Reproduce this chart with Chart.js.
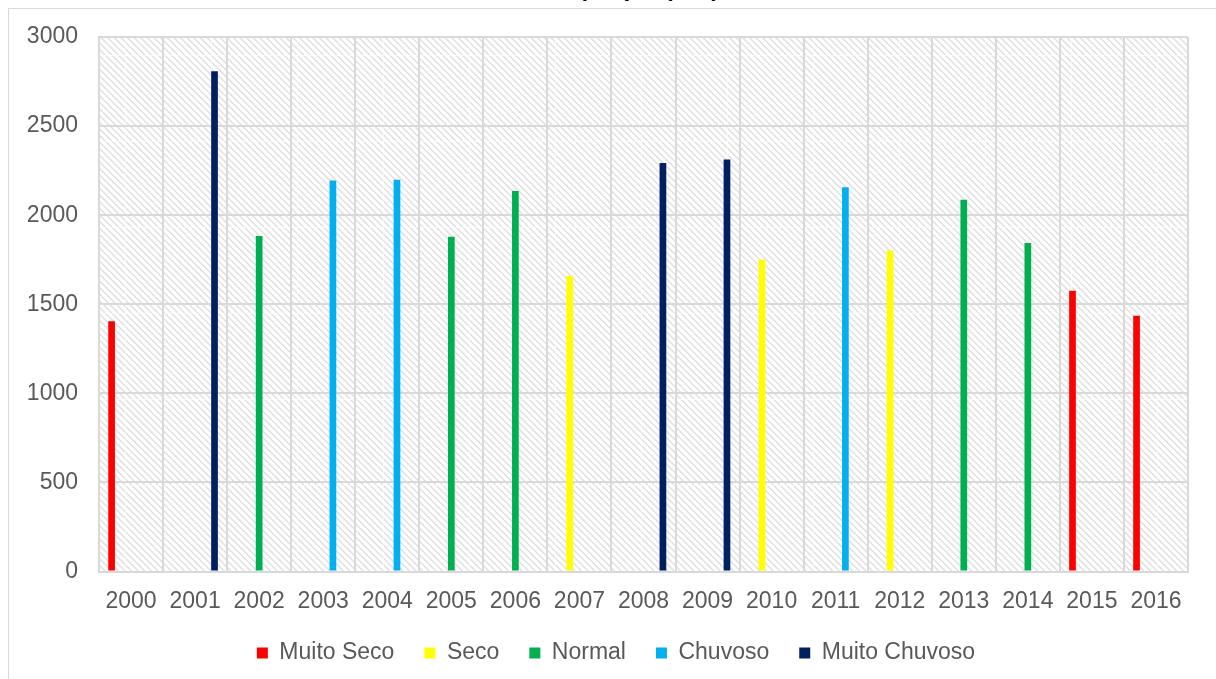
<!DOCTYPE html>
<html>
<head>
<meta charset="utf-8">
<script src="https://cdn.jsdelivr.net/npm/chart.js@4/dist/chart.umd.min.js"></script>
<style>
  html, body { margin: 0; padding: 0; background: #fff; overflow: hidden; }
  #wrap { position: relative; width: 1216px; height: 679px; overflow: hidden; }
  #frame { position: absolute; left: 8px; top: 8px; width: 1300px; height: 800px;
           border-left: 1.5px solid #d9d9d9; border-top: 1.5px solid #d9d9d9; }
  #title { position: absolute; left: 528px; top: -22.5px; font: bold 22px "Liberation Sans", Arial, sans-serif;
           line-height: 22px; color: #000; white-space: nowrap; }
  canvas { position: absolute; left: 0; top: 0; }
</style>
</head>
<body>
<div id="wrap">
  <div id="frame"></div>
  <div id="title">Precipitação (mm)</div>
  <canvas id="chart" width="1216" height="679"></canvas>
</div>
<script>
// Annual rainfall per year and its class
const years = ['2000','2001','2002','2003','2004','2005','2006','2007','2008',
               '2009','2010','2011','2012','2013','2014','2015','2016'];
const precipitation = [1405, 2808, 1883, 2194, 2199, 1879, 2136, 1658, 2293,
                       2312, 1750, 2156, 1801, 2087, 1844, 1576, 1435];
// 0 = Muito Seco, 1 = Seco, 2 = Normal, 3 = Chuvoso, 4 = Muito Chuvoso
const yearClass = [0, 4, 2, 3, 3, 2, 2, 1, 4, 4, 1, 3, 1, 2, 2, 0, 0];
const classNames = ['Muito Seco', 'Seco', 'Normal', 'Chuvoso', 'Muito Chuvoso'];
const classColors = ['#FF0000', '#FFFF00', '#00B050', '#00B0F0', '#002060'];
const yMin = 0, yMax = 3000, yStep = 500;

const FONT = '"Liberation Sans", Arial, sans-serif';
const TEXT = '#595959';
const GRID = '#d9d9d9';

// Diagonal hatch fill for the plot background
function makeHatch(ctx) {
  const size = 86;
  const tile = document.createElement('canvas');
  tile.width = size; tile.height = size;
  const t = tile.getContext('2d');
  t.fillStyle = '#ffffff';
  t.fillRect(0, 0, size, size);
  t.strokeStyle = '#e0e0e0';
  t.lineWidth = 1.5;
  for (let k = -size; k < size * 2; k += size / 13) {
    t.beginPath();
    t.moveTo(k, 0);
    t.lineTo(k + size, size);
    t.stroke();
  }
  t.fillStyle = 'rgba(255,255,255,0.55)';
  t.fillRect(0, 0, size, 1);
  t.fillRect(0, 0, 1, size);
  const p = ctx.createPattern(tile, 'repeat');
  p.setTransform(new DOMMatrix([1, 0, 0, 1, 39, 55]));
  return p;
}

const hatchBackground = {
  id: 'hatchBackground',
  beforeDraw(chart) {
    const { ctx, chartArea: a } = chart;
    if (!a) return;
    ctx.save();
    ctx.fillStyle = makeHatch(ctx);
    ctx.fillRect(a.left, a.top, a.right - a.left, a.bottom - a.top);
    ctx.restore();
  }
};

// Centre the legend row under the whole frame rather than the plot
const legendShift = {
  id: 'legendShift',
  afterLayout(chart) {
    if (chart.legend) chart.legend.left += 44;
  }
};

const datasets = classNames.map((name, c) => ({
  label: name,
  data: precipitation.map((v, i) => (yearClass[i] === c ? v : null)),
  backgroundColor: classColors[c],
  borderWidth: 0,
  categoryPercentage: 0.758,
  barPercentage: 0.69
}));

new Chart(document.getElementById('chart'), {
  type: 'bar',
  data: { labels: years, datasets },
  plugins: [hatchBackground, legendShift],
  options: {
    responsive: false,
    animation: false,
    layout: { padding: { left: 0, right: 28, top: 37, bottom: 4.5 } },
    plugins: {
      tooltip: { enabled: false },
      title: { display: false },
      legend: {
        position: 'bottom',
        labels: {
          boxWidth: 11, boxHeight: 11, padding: 30,
          color: TEXT, font: { family: FONT, size: 23 }
        }
      }
    },
    scales: {
      x: {
        grid: { color: GRID, lineWidth: 2, drawTicks: false, offset: true },
        border: { color: GRID, width: 2 },
        ticks: { color: TEXT, font: { family: FONT, size: 23 }, padding: 16, maxRotation: 0 },
        afterFit(scale) { scale.height = 40; }
      },
      y: {
        min: yMin, max: yMax,
        grid: { color: GRID, lineWidth: 2, drawTicks: false },
        border: { color: GRID, width: 2 },
        ticks: {
          stepSize: yStep, color: TEXT, font: { family: FONT, size: 23 }, padding: 21,
          callback: (v) => String(v)
        },
        afterFit(scale) { scale.width = 99; }
      }
    }
  }
});
</script>
</body>
</html>
